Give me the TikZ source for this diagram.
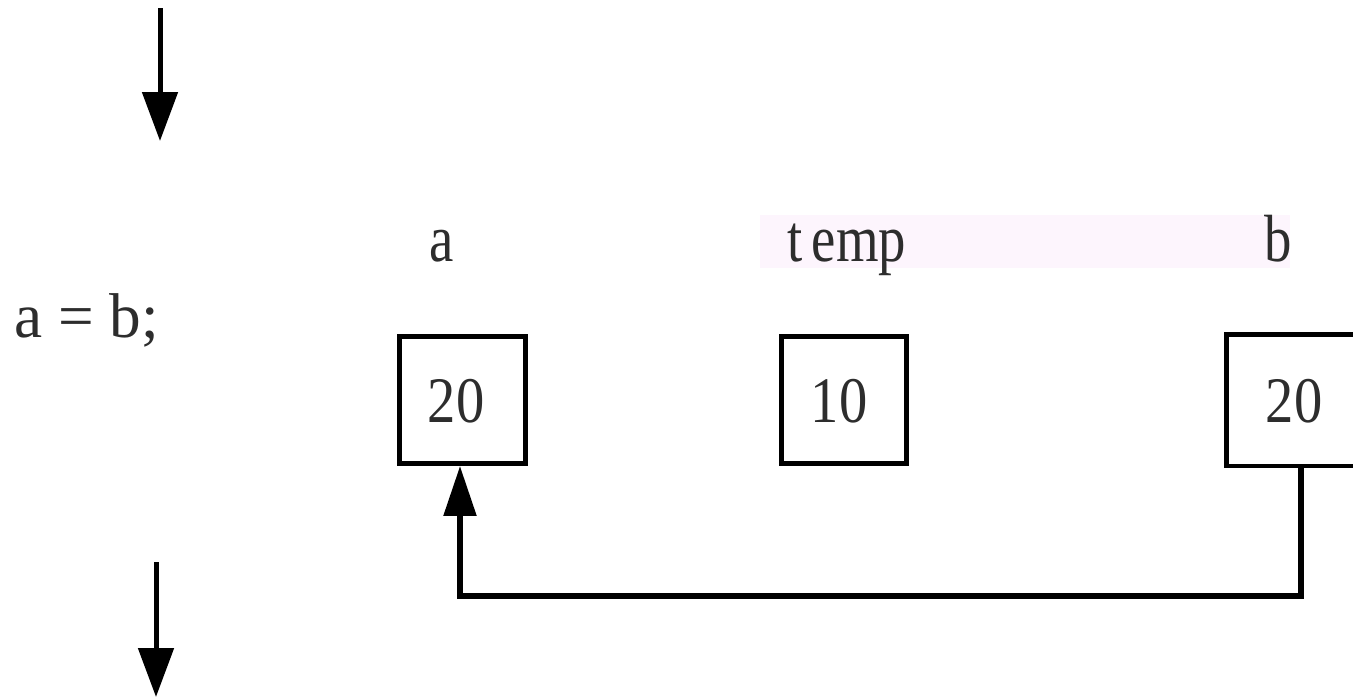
\documentclass[tikz,border=0pt]{standalone}
\usepackage{fontspec}
\setmainfont{Liberation Serif}
\newfontfamily\condlbl[FakeStretch=0.82]{Liberation Serif}
\newfontfamily\condnum[FakeStretch=0.87]{Liberation Serif}
\usetikzlibrary{arrows.meta}
\definecolor{pinkbg}{RGB}{253,245,253}
\definecolor{txt}{RGB}{45,45,45}
\tikzset{
  box/.style={draw=black, line width=0.1cm, inner sep=0pt, minimum width=2.52cm, minimum height=2.54cm},
  stmtstyle/.style={inner sep=0pt, text=txt, font=\fontsize{36}{38}\selectfont},
  lbl/.style={inner sep=0pt, anchor=base, text=txt, font=\condlbl\fontsize{38}{40}\selectfont},
  num/.style={inner sep=0pt, anchor=base, text=txt, font=\condnum\fontsize{37}{40}\selectfont},
  flow/.style={line width=0.1cm, -{Triangle[width=0.7cm, length=0.98cm]}},
  conn/.style={line width=0.11cm, -{Triangle[width=0.64cm, length=1.0cm]}}
}
\begin{document}
\begin{tikzpicture}[x=0.02cm, y=-0.02cm]
\path[use as bounding box] (0,0) rectangle (1353,698);
\clip (0,0) rectangle (1353,698);
% faint highlight band
\fill[pinkbg] (760,215) rectangle (1290,268);
% statement
\node[stmtstyle, anchor=base west] (stmt) at (14,337) {a = b;};
% flow arrows
\coordinate (t1) at (160,8);
\coordinate (t2) at (160,141);
\draw[flow] (t1) -- (t2);
\coordinate (u1) at (156,562);
\coordinate (u2) at (156,697);
\draw[flow] (u1) -- (u2);
% variable names
\node[lbl] (la) at (442,261) {a};
\node[lbl] (lt) at (847,261) {t\kern5pt emp};
\node[lbl] (lb) at (1278,261) {b};
% boxes
\node[box] (boxA) at (462.5,400) {};
\node[box] (boxT) at (844,400) {};
\node[box, draw=none, minimum width=3.5cm] (boxB) at (1316,400) {};
\draw[line width=0.1cm] (boxB.north east) -- (boxB.north west) -- (boxB.south west) -- (boxB.south east);
% values
\node[num] (va) at (456,422) {20};
\node[num] (vt) at (839,422) {10};
\node[num] (vb) at (1294,422) {20};
% connector b -> a
\draw[conn] ([xshift=-0.3cm]boxB.south) -- ++(0,130) -| ([xshift=-0.05cm]boxA.south);
\end{tikzpicture}
\end{document}
